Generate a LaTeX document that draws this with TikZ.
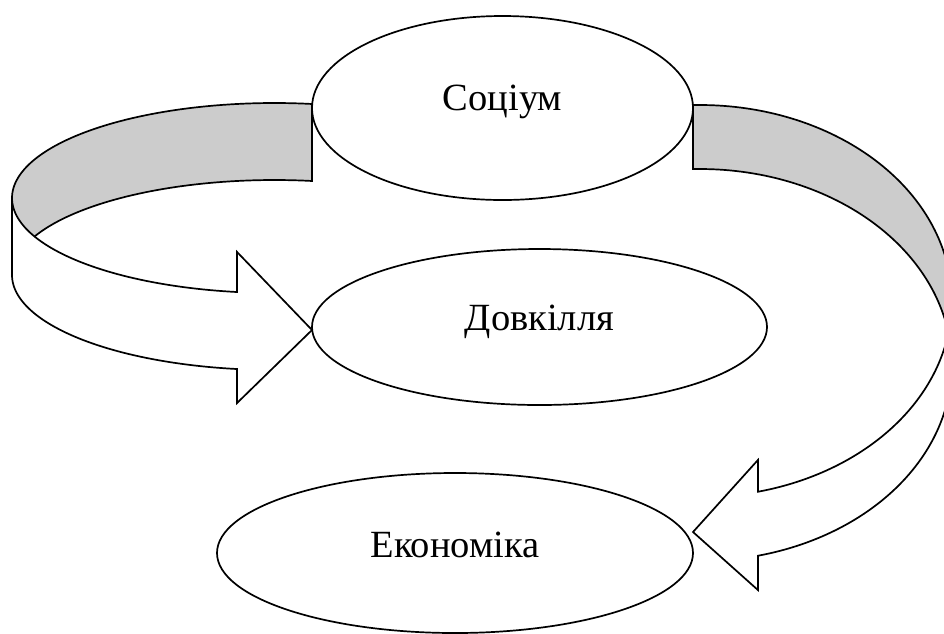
\documentclass[tikz,border=0pt]{standalone}
\usepackage{fontspec}
\setmainfont{Liberation Serif}
\usetikzlibrary{shapes.geometric}
\definecolor{bandgray}{RGB}{204,204,204}
\tikzset{
  oval/.style={ellipse, draw, fill=white, line width=1.7pt, inner sep=0pt},
  lbl/.style={font=\fontsize{38.5}{42}\selectfont, anchor=base, inner sep=0pt},
  ribbon/.style={draw, line width=1.7pt, line join=miter},
  shade/.style={fill=bandgray},
}
\begin{document}
\begin{tikzpicture}[x=1pt,y=-1pt]
\useasboundingbox (0,0) rectangle (944,633);
\fill[white] (0,0) rectangle (944,633);
\begin{scope}
\clip (0,0) rectangle (944,633);
% ---- left ribbon arrow (Social -> Environment)
\fill[shade] plot[domain=278.2:156.1,samples=70,variable=\t] ({274.5+262.5*cos(\t)},{198+95*sin(\t)})
  -- plot[domain=203.9:278.2,samples=50,variable=\t] ({274.5+262.5*cos(\t)},{275+95*sin(\t)}) -- cycle;
\draw[ribbon] plot[domain=278.2:98.2,samples=120,variable=\t] ({274.5+262.5*cos(\t)},{198+95*sin(\t)})
  -- (237.06,252) -- (312,330) -- (237.06,403)
  -- plot[domain=98.2:180,samples=60,variable=\t] ({274.5+262.5*cos(\t)},{275+95*sin(\t)})
  -- (12,198);
\draw[ribbon] plot[domain=203.9:278.2,samples=50,variable=\t] ({274.5+262.5*cos(\t)},{275+95*sin(\t)})
  -- (311.9,103.97);
% ---- right ribbon arrow (Social -> Economy)
\fill[shade] plot[domain=268.4:369.4,samples=70,variable=\t] ({700+251.8*cos(\t)},{301+196*sin(\t)})
  -- plot[domain=350.6:268.4,samples=60,variable=\t] ({700+251.8*cos(\t)},{365+196*sin(\t)}) -- cycle;
\draw[ribbon] plot[domain=268.4:436.7,samples=140,variable=\t] ({700+251.8*cos(\t)},{301+196*sin(\t)})
  -- (757.9,460) -- (693,532) -- (757.9,590)
  -- plot[domain=436.7:360,samples=60,variable=\t] ({700+251.8*cos(\t)},{365+196*sin(\t)})
  -- (951.8,301);
\draw[ribbon] plot[domain=350.6:268.4,samples=60,variable=\t] ({700+251.8*cos(\t)},{365+196*sin(\t)})
  -- (693,105.1);
% ---- ellipses
\node[oval, minimum width=381pt, minimum height=184pt] (soc) at (502.5,108) {};
\node[oval, minimum width=455pt, minimum height=156pt] (dov) at (539.5,327) {};
\node[oval, minimum width=476pt, minimum height=160pt] (eko) at (455,553) {};
\end{scope}
\node[lbl] (socT) at (502.5,110) {Соціум};
\node[lbl] (dovT) at (539.5,330) {Довкілля};
\node[lbl] (ekoT) at (455,557) {Економіка};
\end{tikzpicture}
\end{document}
